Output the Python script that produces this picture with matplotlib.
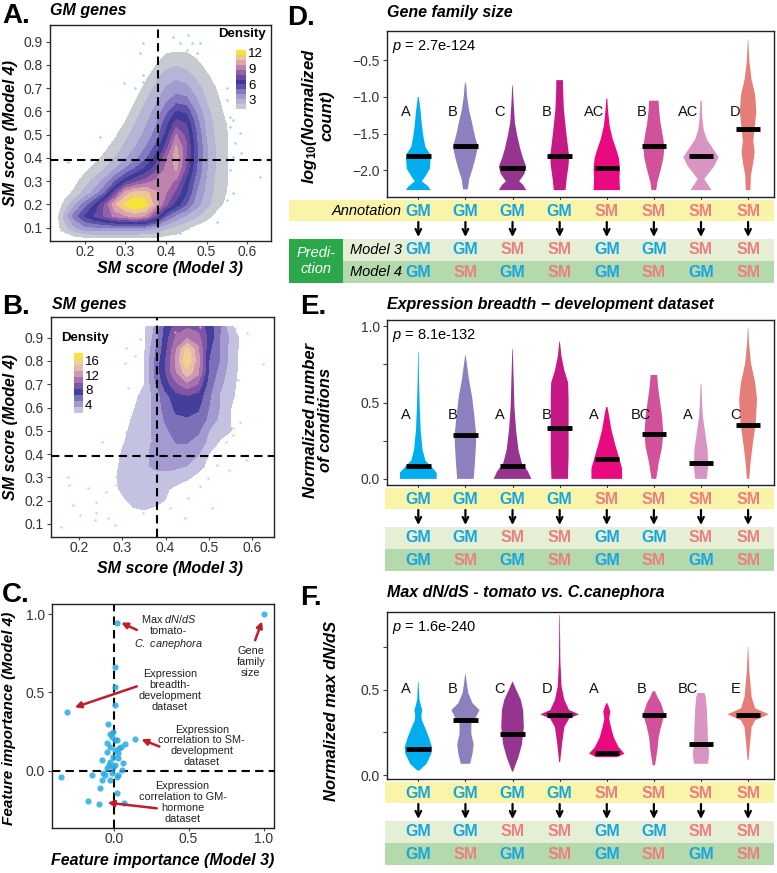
import numpy as np
import matplotlib
matplotlib.use('Agg')
import matplotlib.pyplot as plt

plt.rcParams['font.family'] = ['Liberation Sans', 'DejaVu Sans']
plt.rcParams['mathtext.fontset'] = 'custom'
plt.rcParams['mathtext.it'] = 'Liberation Sans:italic'
plt.rcParams['mathtext.rm'] = 'Liberation Sans'
plt.rcParams['mathtext.bf'] = 'Liberation Sans:bold'

# ---------------- data ----------------
# A: density of GM genes (rows = y, cols = x)
dens_x_a = [0.125, 0.15, 0.175, 0.2, 0.225, 0.25, 0.275, 0.3, 0.325, 0.35,
            0.375, 0.4, 0.425, 0.45, 0.475, 0.5, 0.525, 0.55, 0.575]
dens_y_a = [0.05, 0.10, 0.15, 0.20, 0.25, 0.30, 0.35, 0.40, 0.45,
            0.50, 0.55, 0.60, 0.65, 0.70, 0.75, 0.80, 0.85, 0.90]
dens_gm = [
    [0.2, 0.4, 0.6, 0.7, 0.8, 0.8, 0.8, 0.8, 0.8, 0.8, 0.8, 0.7, 0.7, 0.6, 0.5, 0.3, 0.2, 0.1, 0.1],
    [0.6, 1.8, 3.0, 3.8, 3.9, 3.9, 3.9, 3.9, 3.9, 3.7, 3.2, 2.4, 1.9, 1.4, 0.9, 0.6, 0.4, 0.2, 0.1],
    [0.5, 2.5, 4.5, 6.0, 7.0, 8.0, 9.0, 9.6, 10.0, 9.5, 7.5, 5.0, 3.8, 3.0, 2.3, 1.6, 0.9, 0.5, 0.2],
    [0.3, 1.5, 3.0, 4.5, 6.0, 8.0, 10.5, 11.8, 12.5, 12.0, 10.0, 8.0, 6.5, 5.0, 3.5, 2.5, 1.6, 1.0, 0.4],
    [0.1, 0.8, 1.5, 2.5, 3.5, 5.0, 7.5, 10.2, 11.0, 11.0, 9.8, 8.8, 7.5, 6.0, 4.0, 2.8, 1.8, 1.2, 0.5],
    [0.1, 0.3, 0.9, 1.8, 2.5, 3.5, 5.0, 6.5, 7.5, 8.2, 9.0, 9.3, 8.5, 6.5, 4.5, 3.0, 1.9, 1.3, 0.6],
    [0.0, 0.1, 0.4, 1.0, 1.6, 2.3, 3.2, 4.2, 5.2, 6.3, 7.5, 9.0, 9.8, 7.5, 5.0, 3.2, 2.0, 1.3, 0.6],
    [0.0, 0.0, 0.2, 0.5, 0.9, 1.5, 2.2, 3.0, 3.8, 4.8, 6.2, 8.5, 10.2, 8.0, 5.2, 3.2, 2.0, 1.3, 0.6],
    [0.0, 0.0, 0.1, 0.3, 0.5, 1.0, 1.6, 2.4, 3.1, 4.0, 5.2, 7.2, 9.8, 8.0, 5.2, 3.2, 2.0, 1.3, 0.6],
    [0.0, 0.0, 0.0, 0.1, 0.3, 0.6, 1.1, 1.9, 2.6, 3.4, 4.4, 6.2, 8.8, 7.5, 5.0, 3.0, 1.9, 1.3, 0.6],
    [0.0, 0.0, 0.0, 0.0, 0.1, 0.3, 0.7, 1.3, 2.2, 3.0, 3.9, 5.5, 7.3, 6.8, 4.5, 2.8, 1.8, 1.2, 0.5],
    [0.0, 0.0, 0.0, 0.0, 0.0, 0.1, 0.4, 0.8, 1.7, 2.6, 3.4, 4.6, 6.0, 5.7, 3.9, 2.5, 1.6, 1.0, 0.4],
    [0.0, 0.0, 0.0, 0.0, 0.0, 0.0, 0.2, 0.5, 1.2, 2.1, 2.9, 3.8, 4.5, 4.3, 3.2, 2.1, 1.4, 0.9, 0.3],
    [0.0, 0.0, 0.0, 0.0, 0.0, 0.0, 0.1, 0.3, 0.8, 1.5, 2.4, 3.2, 3.6, 3.4, 2.6, 1.8, 1.2, 0.7, 0.2],
    [0.0, 0.0, 0.0, 0.0, 0.0, 0.0, 0.0, 0.1, 0.5, 1.0, 1.9, 2.6, 2.9, 2.6, 2.0, 1.4, 0.9, 0.5, 0.1],
    [0.0, 0.0, 0.0, 0.0, 0.0, 0.0, 0.0, 0.0, 0.2, 0.6, 1.2, 1.9, 2.1, 1.9, 1.5, 1.0, 0.6, 0.3, 0.1],
    [0.0, 0.0, 0.0, 0.0, 0.0, 0.0, 0.0, 0.0, 0.1, 0.3, 0.8, 1.2, 1.35, 1.3, 1.0, 0.6, 0.3, 0.1, 0.0],
    [0.0, 0.0, 0.0, 0.0, 0.0, 0.0, 0.0, 0.0, 0.0, 0.1, 0.3, 0.4, 0.5, 0.4, 0.3, 0.2, 0.1, 0.0, 0.0],
]
gm_pts_x = [0.336, 0.344, 0.296, 0.323, 0.344, 0.237, 0.282, 0.159, 0.216, 0.435, 0.455, 0.463,
            0.484, 0.476, 0.484, 0.496, 0.55, 0.558, 0.566, 0.582, 0.57, 0.586, 0.529, 0.517,
            0.55, 0.566, 0.632, 0.558, 0.533, 0.5, 0.525, 0.455, 0.435, 0.328, 0.138, 0.142,
            0.196, 0.344, 0.451, 0.447, 0.55, 0.48, 0.484, 0.566, 0.558, 0.418]
gm_pts_y = [0.853, 0.757, 0.724, 0.70, 0.728, 0.49, 0.484, 0.381, 0.391, 0.893, 0.929, 0.893,
            0.893, 0.85, 0.778, 0.763, 0.649, 0.577, 0.563, 0.506, 0.463, 0.42, 0.42, 0.305,
            0.219, 0.248, 0.319, 0.348, 0.334, 0.176, 0.126, 0.097, 0.076, 0.076, 0.126, 0.09,
            0.147, 0.893, 0.864, 0.706, 0.699, 0.491, 0.262, 0.405, 0.534, 0.922]

# B: density of SM genes
dens_x_b = [0.15, 0.175, 0.2, 0.225, 0.25, 0.275, 0.3, 0.325, 0.35, 0.375,
            0.4, 0.425, 0.45, 0.475, 0.5, 0.525, 0.55, 0.575, 0.6]
dens_y_b = [0.10, 0.15, 0.20, 0.25, 0.30, 0.35, 0.40, 0.45, 0.50,
            0.55, 0.60, 0.65, 0.70, 0.75, 0.80, 0.85, 0.90, 0.95]
dens_sm = [
    [0, 0, 0, 0, 0, 0.1, 0.3, 0.6, 0.7, 0.6, 0.4, 0.2, 0.1, 0, 0, 0, 0, 0, 0],
    [0, 0, 0, 0, 0, 0.3, 0.8, 1.3, 1.5, 1.3, 0.9, 0.5, 0.3, 0.1, 0, 0, 0, 0, 0],
    [0, 0, 0, 0, 0.1, 0.5, 1.3, 2.1, 2.2, 2.0, 1.6, 0.8, 0.5, 0.3, 0.1, 0, 0, 0, 0],
    [0, 0, 0, 0, 0.2, 0.9, 2.0, 2.5, 2.6, 2.4, 1.9, 1.2, 0.8, 0.5, 0.2, 0.1, 0, 0, 0],
    [0, 0, 0, 0, 0.3, 1.1, 2.2, 2.7, 2.9, 2.9, 2.8, 2.5, 1.9, 1.2, 0.7, 0.3, 0.1, 0, 0],
    [0, 0, 0, 0, 0.3, 1.0, 2.0, 2.6, 3.1, 3.5, 3.7, 3.6, 3.3, 2.3, 1.2, 0.6, 0.3, 0.1, 0],
    [0, 0, 0, 0, 0.2, 0.8, 1.8, 2.5, 3.0, 3.6, 4.2, 4.4, 4.2, 3.4, 1.6, 0.9, 0.5, 0.2, 0],
    [0, 0, 0, 0, 0, 0.5, 1.5, 2.2, 2.9, 3.5, 4.3, 5.0, 5.0, 4.2, 2.9, 1.5, 0.9, 0.4, 0.1],
    [0, 0, 0, 0, 0, 0.3, 1.3, 2.0, 2.7, 3.5, 4.6, 5.7, 5.8, 5.3, 3.3, 2.2, 1.7, 0.9, 0.1],
    [0, 0, 0, 0, 0, 0.2, 1.0, 1.8, 2.6, 3.6, 5.2, 6.3, 6.4, 6.0, 4.6, 2.9, 1.7, 0.8, 0.2],
    [0, 0, 0, 0, 0, 0, 0.8, 1.5, 2.3, 3.8, 5.6, 7.0, 7.3, 6.9, 4.95, 3.3, 1.7, 0.8, 0.2],
    [0, 0, 0, 0, 0, 0, 0.6, 1.4, 1.9, 3.9, 6.0, 7.7, 8.1, 7.6, 5.3, 3.2, 2.0, 1.0, 0.3],
    [0, 0, 0, 0, 0, 0, 0.5, 1.2, 1.6, 4.6, 7.5, 9.6, 11.0, 9.8, 5.8, 3.8, 2.2, 1.1, 0.3],
    [0, 0, 0, 0, 0, 0, 0.4, 1.0, 1.5, 5.2, 8.25, 11.5, 14.2, 12.0, 6.4, 4.3, 2.5, 1.1, 0.3],
    [0, 0, 0, 0, 0, 0, 0.4, 1.0, 1.5, 5.0, 8.25, 12.0, 16.7, 12.2, 6.6, 4.95, 2.7, 1.2, 0.3],
    [0, 0, 0, 0, 0, 0, 0.3, 0.8, 1.3, 4.6, 7.7, 11.5, 15.5, 12.0, 7.0, 4.9, 2.7, 1.2, 0.3],
    [0, 0, 0, 0, 0, 0, 0.2, 0.7, 1.4, 3.8, 7.5, 10.2, 11.2, 10.5, 7.8, 5.0, 3.0, 1.3, 0.3],
    [0, 0, 0, 0, 0, 0, 0.2, 0.6, 1.2, 3.4, 7.0, 9.0, 9.6, 9.2, 7.5, 5.2, 1.9, 0.8, 0.2],
]
sm_pts_x = [0.158, 0.175, 0.177, 0.185, 0.202, 0.221, 0.24, 0.236, 0.238, 0.263, 0.267, 0.252,
            0.286, 0.282, 0.309, 0.313, 0.306, 0.329, 0.34, 0.309, 0.348, 0.356, 0.387, 0.41,
            0.444, 0.451, 0.479, 0.508, 0.498, 0.519, 0.547, 0.525, 0.54, 0.556, 0.56, 0.588,
            0.568, 0.625, 0.587, 0.572, 0.556, 0.51, 0.487, 0.421, 0.479, 0.367, 0.34]
sm_pts_y = [0.086, 0.303, 0.268, 0.182, 0.139, 0.253, 0.196, 0.117, 0.146, 0.239, 0.125, 0.454,
            0.268, 0.096, 0.497, 0.683, 0.793, 0.821, 0.894, 0.854, 0.146, 0.21, 0.268, 0.167,
            0.125, 0.21, 0.261, 0.167, 0.296, 0.353, 0.332, 0.396, 0.454, 0.511, 0.94, 0.919,
            0.718, 0.786, 0.375, 0.539, 0.482, 0.482, 0.382, 0.926, 0.947, 0.461, 0.561]

# C: feature importance
fi_model3 = [1.0, 0.02, 0.009, 0.009, 0.009, -0.31, 0.143, -0.352, -0.036, -0.024, -0.002,
             0.076, 0.02, -0.047, -0.024, 0.009, 0.031, -0.047, -0.002, -0.024, 0.009, -0.047,
             -0.013, -0.069, 0.031, -0.08, -0.076, -0.147, -0.091, -0.024, 0.02, -0.169,
             -0.096, 0.069, 0.053, 0.065, 0.031, 0.047, 0.009, -0.013, 0.038, -0.002, -0.029,
             0.02, -0.056]
fi_model4 = [1.0, 0.947, 0.661, 0.533, 0.42, 0.377, 0.205, -0.038, 0.298, 0.235, 0.25,
             0.171, 0.196, 0.175, 0.154, 0.132, 0.111, 0.122, 0.09, 0.058, 0.036, 0.015,
             -0.013, -0.017, -0.028, 0.068, -0.06, -0.028, -0.113, -0.06, -0.145, -0.194,
             -0.213, -0.209, 0.004, 0.051, 0.079, 0.154, 0.196, 0.217, 0.143, 0.026, 0.036,
             -0.038, -0.028]

# D-F: groups, labels and violin outlines (y, full width)
groups = ['GM/GM/GM', 'GM/GM/SM', 'GM/SM/GM', 'GM/SM/SM', 'SM/GM/GM', 'SM/GM/SM', 'SM/SM/GM', 'SM/SM/SM']
annot_labels = ['GM', 'GM', 'GM', 'GM', 'SM', 'SM', 'SM', 'SM']
model3_labels = ['GM', 'GM', 'SM', 'SM', 'GM', 'GM', 'SM', 'SM']
model4_labels = ['GM', 'SM', 'GM', 'SM', 'GM', 'SM', 'GM', 'SM']

fam_profiles = [
    [(-2.27, 0.53), (-2.22, 0.42), (-2.15, 0.15), (-2.08, 0.3), (-1.98, 0.49), (-1.85, 0.52),
     (-1.78, 0.5), (-1.68, 0.3), (-1.55, 0.22), (-1.38, 0.15), (-1.2, 0.1), (-1.05, 0.04), (-1.0, 0.02)],
    [(-2.26, 0.1), (-2.12, 0.16), (-1.98, 0.3), (-1.84, 0.42), (-1.68, 0.53), (-1.53, 0.4),
     (-1.35, 0.28), (-1.17, 0.15), (-0.99, 0.07), (-0.83, 0.03), (-0.8, 0.005)],
    [(-2.27, 0.58), (-2.2, 0.45), (-2.15, 0.28), (-2.05, 0.5), (-1.95, 0.58), (-1.84, 0.45),
     (-1.71, 0.33), (-1.53, 0.2), (-1.35, 0.1), (-1.1, 0.05), (-0.84, 0.01)],
    [(-2.27, 0.25), (-2.11, 0.3), (-1.93, 0.38), (-1.8, 0.4), (-1.62, 0.33), (-1.39, 0.25),
     (-1.17, 0.18), (-0.94, 0.15), (-0.77, 0.14)],
    [(-2.27, 0.56), (-2.1, 0.54), (-1.98, 0.56), (-1.84, 0.52), (-1.71, 0.4), (-1.57, 0.25),
     (-1.39, 0.12), (-1.2, 0.06), (-1.02, 0.02)],
    [(-2.27, 0.1), (-2.16, 0.15), (-1.98, 0.3), (-1.84, 0.4), (-1.68, 0.45), (-1.53, 0.38),
     (-1.35, 0.28), (-1.17, 0.22), (-1.05, 0.2)],
    [(-2.27, 0.45), (-2.2, 0.3), (-2.12, 0.14), (-2.05, 0.3), (-1.95, 0.55), (-1.82, 0.75),
     (-1.7, 0.5), (-1.58, 0.25), (-1.45, 0.12), (-1.3, 0.06), (-1.15, 0.04), (-1.05, 0.03)],
    [(-2.27, 0.1), (-2.07, 0.12), (-1.93, 0.2), (-1.75, 0.28), (-1.6, 0.22), (-1.45, 0.27),
     (-1.2, 0.35), (-0.97, 0.3), (-0.75, 0.14), (-0.5, 0.05), (-0.22, 0.01)],
]
fam_medians = [-1.80, -1.67, -1.97, -1.80, -1.97, -1.67, -1.80, -1.43]
fam_letters = ['A', 'B', 'C', 'B', 'AC', 'B', 'AC', 'D']

breadth_profiles = [
    [(0.0, 0.78), (0.04, 0.78), (0.08, 0.55), (0.12, 0.3), (0.19, 0.18), (0.32, 0.1),
     (0.47, 0.06), (0.63, 0.03), (0.83, 0.01)],
    [(0.0, 0.35), (0.1, 0.4), (0.23, 0.45), (0.3, 0.45), (0.41, 0.38), (0.54, 0.28),
     (0.65, 0.15), (0.73, 0.08), (0.81, 0.01)],
    [(0.0, 0.8), (0.05, 0.65), (0.1, 0.4), (0.19, 0.25), (0.32, 0.15), (0.47, 0.08),
     (0.69, 0.04), (0.85, 0.01)],
    [(0.0, 0.35), (0.15, 0.38), (0.32, 0.38), (0.52, 0.38), (0.63, 0.36), (0.71, 0.2),
     (0.8, 0.08), (0.9, 0.01)],
    [(0.0, 0.65), (0.07, 0.65), (0.15, 0.5), (0.23, 0.35), (0.32, 0.2), (0.41, 0.1), (0.47, 0.03)],
    [(0.0, 0.1), (0.1, 0.2), (0.21, 0.35), (0.3, 0.4), (0.41, 0.35), (0.52, 0.25),
     (0.6, 0.18), (0.68, 0.14)],
    [(0.0, 0.25), (0.08, 0.3), (0.19, 0.28), (0.3, 0.18), (0.41, 0.08), (0.52, 0.04), (0.62, 0.02)],
    [(0.0, 0.05), (0.1, 0.1), (0.23, 0.2), (0.36, 0.32), (0.52, 0.38), (0.63, 0.3),
     (0.76, 0.12), (0.89, 0.04), (0.99, 0.01)],
]
breadth_medians = [0.087, 0.29, 0.087, 0.335, 0.13, 0.295, 0.107, 0.353]
breadth_letters = ['A', 'B', 'A', 'B', 'A', 'BC', 'A', 'C']

dnds_profiles = [
    [(0.027, 0.05), (0.066, 0.35), (0.125, 0.55), (0.164, 0.58), (0.22, 0.45), (0.28, 0.28),
     (0.32, 0.15), (0.35, 0.13), (0.38, 0.17), (0.40, 0.12), (0.44, 0.05), (0.545, 0.01)],
    [(0.066, 0.2), (0.125, 0.3), (0.18, 0.35), (0.24, 0.25), (0.30, 0.25), (0.34, 0.45),
     (0.38, 0.6), (0.42, 0.3), (0.48, 0.12), (0.535, 0.06), (0.59, 0.01)],
    [(0.02, 0.02), (0.105, 0.25), (0.18, 0.4), (0.28, 0.48), (0.38, 0.45), (0.44, 0.35),
     (0.50, 0.15), (0.545, 0.01)],
    [(0.076, 0.02), (0.18, 0.1), (0.28, 0.2), (0.33, 0.4), (0.355, 0.82), (0.38, 0.4),
     (0.44, 0.2), (0.52, 0.08), (0.67, 0.03), (0.935, 0.01)],
    [(0.105, 0.45), (0.125, 0.75), (0.164, 0.5), (0.22, 0.3), (0.28, 0.18), (0.33, 0.1),
     (0.37, 0.15), (0.40, 0.08), (0.42, 0.02)],
    [(0.057, 0.05), (0.145, 0.15), (0.22, 0.2), (0.28, 0.3), (0.355, 0.45), (0.42, 0.3),
     (0.457, 0.15), (0.49, 0.05)],
    [(0.066, 0.3), (0.125, 0.35), (0.18, 0.3), (0.28, 0.28), (0.38, 0.25), (0.457, 0.2), (0.48, 0.15)],
    [(0.086, 0.02), (0.18, 0.08), (0.28, 0.15), (0.32, 0.3), (0.355, 0.88), (0.39, 0.3),
     (0.457, 0.15), (0.535, 0.1), (0.61, 0.05), (0.75, 0.01)],
]
dnds_medians = [0.15, 0.32, 0.24, 0.353, 0.13, 0.353, 0.18, 0.353]
dnds_letters = ['A', 'B', 'C', 'D', 'A', 'B', 'BC', 'E']

# ---------------- style ----------------
violin_colors = ['#00aeef', '#8e7fbf', '#953590', '#c51a86', '#ea0a80', '#d1519b', '#d895c2', '#e57e78']
label_colors = {'GM': '#17a5dd', 'SM': '#ec8080'}
colors_a = ['#c8cad2', '#b7b5d6', '#a29ccf', '#857ac0', '#5d52a9', '#3e3b98',
            '#6a4aa0', '#9560a7', '#bd82ae', '#dca5ad', '#efc891', '#f7e23a']
levels_a = np.linspace(1.25, 12.5, 13)
colors_b = ['#c4c2e1', '#a39bcf', '#7d70b8', '#433f9b', '#7f56a5',
            '#a872ad', '#cf98b5', '#e6bca8', '#efcf95', '#f5e43a']
levels_b = list(np.linspace(1.65, 16.5, 10)) + [17.0]
dash = (0, (4, 2.5))

fig = plt.figure(figsize=(7.77, 8.73), dpi=100)
W, H = 777.0, 873.0


def box(l, t, r, b):
    return fig.add_axes([l / W, 1 - b / H, (r - l) / W, (b - t) / H])


def ftext(x, y, s, **kw):
    return fig.text(x / W, 1 - y / H, s, **kw)


def style(ax):
    for sp in ax.spines.values():
        sp.set_color('#222222')
        sp.set_linewidth(1.0)
    ax.tick_params(length=3, width=0.8, color='#444444', labelsize=10, labelcolor='#333333', pad=2)
    ax.tick_params(axis='x', length=2.5, pad=0.5)


# ---------------- A ----------------
axA = box(50, 25, 271, 241)
axA.scatter(gm_pts_x, gm_pts_y, s=3, color='#8fd3f0', linewidths=0, zorder=1)
csA = axA.contourf(dens_x_a, dens_y_a, np.array(dens_gm), levels=levels_a, colors=colors_a, zorder=2)
axA.axvline(0.38, color='black', lw=1.5, ls=dash, zorder=4)
axA.axhline(0.39, color='black', lw=1.5, ls=dash, zorder=4)
axA.set_xlim(0.114, 0.659)
axA.set_ylim(0.043, 0.972)
axA.set_xticks([0.2, 0.3, 0.4, 0.5, 0.6])
axA.set_yticks([0.1, 0.2, 0.3, 0.4, 0.5, 0.6, 0.7, 0.8, 0.9])
style(axA)
caxA = box(236, 50, 246, 109)
cbA = fig.colorbar(csA, cax=caxA, ticks=[3, 6, 9, 12])
cbA.outline.set_visible(False)
caxA.tick_params(length=0, labelsize=9.5, pad=1.5)
ftext(242, 34, 'Density', ha='center', va='center', fontsize=9.5, fontweight='bold')
ftext(2, 16, 'A.', ha='left', va='center', fontsize=20, fontweight='bold')
ftext(50, 11, 'GM genes', ha='left', va='center', fontsize=11.5, fontweight='bold', fontstyle='italic')
ftext(170, 268, 'SM score (Model 3)', ha='center', va='center', fontsize=11.5, fontweight='bold', fontstyle='italic')
ftext(11, 133, 'SM score (Model 4)', ha='center', va='center', rotation=90, fontsize=11.5,
      fontweight='bold', fontstyle='italic')

# ---------------- B ----------------
axB = box(51, 317, 274, 537)
csB = axB.contourf(dens_x_b, dens_y_b, np.array(dens_sm), levels=levels_b, colors=colors_b, zorder=1)
axB.scatter(sm_pts_x, sm_pts_y, s=3, color='#f5b3bd', linewidths=0, alpha=0.8, zorder=2)
axB.axvline(0.38, color='black', lw=1.5, ls=dash, zorder=4)
axB.axhline(0.394, color='black', lw=1.5, ls=dash, zorder=4)
axB.set_xlim(0.135, 0.651)
axB.set_ylim(0.044, 0.989)
axB.set_xticks([0.2, 0.3, 0.4, 0.5, 0.6])
axB.set_yticks([0.1, 0.2, 0.3, 0.4, 0.5, 0.6, 0.7, 0.8, 0.9])
style(axB)
caxB = box(74, 353, 83, 413)
cbB = fig.colorbar(csB, cax=caxB, ticks=[4, 8, 12, 16])
cbB.outline.set_visible(False)
caxB.tick_params(length=0, labelsize=9.5, pad=1.5)
ftext(85, 338, 'Density', ha='center', va='center', fontsize=9.5, fontweight='bold')
ftext(2, 307, 'B.', ha='left', va='center', fontsize=20, fontweight='bold')
ftext(52, 304, 'SM genes', ha='left', va='center', fontsize=11.5, fontweight='bold', fontstyle='italic')
ftext(170, 569, 'SM score (Model 3)', ha='center', va='center', fontsize=11.5, fontweight='bold', fontstyle='italic')
ftext(11, 427, 'SM score (Model 4)', ha='center', va='center', rotation=90, fontsize=11.5,
      fontweight='bold', fontstyle='italic')

# ---------------- C ----------------
axC = box(52, 604, 274, 828)
axC.scatter(fi_model3, fi_model4, s=20, color='#29abe2', alpha=0.85, linewidths=0, zorder=3)
axC.axvline(0, color='black', lw=1.5, ls=dash, zorder=2)
axC.axhline(0, color='black', lw=1.5, ls=dash, zorder=2)
axC.set_xlim(-0.412, 1.07)
axC.set_ylim(-0.367, 1.066)
axC.set_xticks([0.0, 0.5, 1.0])
axC.set_yticks([0.0, 0.5, 1.0])
style(axC)
red = '#be1e2d'
notes = [
    ('Max $dN/dS$\ntomato-\n$C.\\ canephora$', (0.365, 0.889), (0.154, 0.9), (0.05, 0.947)),
    ('Gene\nfamily\nsize', (0.915, 0.695), (0.944, 0.834), (0.99, 0.955)),
    ('Expression\nbreadth-\ndevelopment\ndataset', (0.376, 0.513), (0.154, 0.539), (-0.26, 0.405)),
    ('Expression\ncorrelation to SM-\ndevelopment\ndataset', (0.588, 0.159), (0.305, 0.154), (0.185, 0.2)),
    ('Expression\ncorrelation to GM-\nhormone\ndataset', (0.459, -0.204), (0.287, -0.241), (-0.04, -0.205)),
]
for s, pos, tail, tip in notes:
    axC.text(pos[0], pos[1], s, ha='center', va='center', fontsize=7.8, linespacing=1.1, color='#231f20')
    axC.annotate('', xy=tip, xytext=tail,
                 arrowprops=dict(arrowstyle='-|>', color=red, lw=1.8, mutation_scale=9,
                                 shrinkA=0, shrinkB=0))
ftext(2, 595, 'C.', ha='left', va='center', fontsize=20, fontweight='bold')
ftext(163, 861, 'Feature importance (Model 3)', ha='center', va='center', fontsize=11.5,
      fontweight='bold', fontstyle='italic')
ftext(9, 718, 'Feature importance (Model 4)', ha='center', va='center', rotation=90, fontsize=11,
      fontweight='bold', fontstyle='italic')

# ---------------- D-F ----------------
positions = np.arange(1, len(groups) + 1)
vx0, vx1 = 0.335, 8.55


def violin_panel(t, b, profiles, medians, letters, letter_y, ylim, yticks, yticklabels, pval):
    ax = box(387, t, 774, b)
    stats = []
    for prof in profiles:
        arr = np.array(prof)
        stats.append(dict(coords=arr[:, 0], vals=arr[:, 1], mean=0.0, median=0.0,
                          min=arr[0, 0], max=arr[-1, 0]))
    widths = [np.array(p)[:, 1].max() for p in profiles]
    parts = ax.violin(stats, positions=positions, widths=widths, showextrema=False)
    for body, c in zip(parts['bodies'], violin_colors):
        body.set_facecolor(c)
        body.set_edgecolor('none')
        body.set_alpha(1)
    ax.hlines(medians, positions - 0.26, positions + 0.26, color='black', lw=3.5, zorder=3)
    for p, s in zip(positions, letters):
        ax.text(p - 0.27, letter_y, s, ha='center', va='center', fontsize=10.5, color='#111111')
    ax.text(0.013, 0.905, '$p$ = ' + pval, transform=ax.transAxes, ha='left', va='center', fontsize=10.5)
    ax.set_xlim(vx0, vx1)
    ax.set_ylim(*ylim)
    ax.set_xticks(positions)
    ax.set_xticklabels([])
    ax.set_yticks(yticks)
    ax.set_yticklabels(yticklabels)
    style(ax)
    return ax


def draw_bands(b, left, named):
    axb = box(left, b + 3, 774, b + 86)
    u = (vx1 - vx0) / (774 - 387)
    axb.set_xlim(vx0 - (387 - left) * u, vx1)
    axb.set_ylim(b + 86, b + 3)
    axb.axis('off')
    g0 = (343 - left) / (774 - left) if named else 0
    axb.axhspan(b + 3, b + 24, color='#faf4a8', lw=0)
    axb.axhspan(b + 42, b + 63.5, xmin=g0, color='#e4efd6', lw=0)
    axb.axhspan(b + 63.5, b + 86, xmin=g0, color='#b3d9ad', lw=0)
    for p, a, m3, m4 in zip(positions, annot_labels, model3_labels, model4_labels):
        axb.text(p, b + 14, a, ha='center', va='center', fontsize=11.5, fontweight='bold', color=label_colors[a])
        axb.text(p, b + 53, m3, ha='center', va='center', fontsize=11.5, fontweight='bold', color=label_colors[m3])
        axb.text(p, b + 75.5, m4, ha='center', va='center', fontsize=11.5, fontweight='bold', color=label_colors[m4])
        axb.annotate('', xy=(p, b + 40), xytext=(p, b + 25),
                     arrowprops=dict(arrowstyle='->', color='black', lw=1.6, mutation_scale=10,
                                     shrinkA=0, shrinkB=0))
    if named:
        axb.axhspan(b + 42, b + 86, xmin=0, xmax=g0, color='#2ba84a', lw=0)
        ftext(402, b + 14, 'Annotation', ha='right', va='center', fontsize=10.5, fontstyle='italic')
        ftext(402, b + 53, 'Model 3', ha='right', va='center', fontsize=10.5, fontstyle='italic')
        ftext(402, b + 75.5, 'Model 4', ha='right', va='center', fontsize=10.5, fontstyle='italic')
        ftext(316, b + 64, 'Predi-\nction', ha='center', va='center', fontsize=10.5,
              fontstyle='italic', color='white', linespacing=1.15)


violin_panel(31, 197, fam_profiles, fam_medians, fam_letters, -1.2, (-2.364, -0.1),
             [-2.0, -1.5, -1.0, -0.5], ['\u22122.0', '\u22121.5', '\u22121.0', '\u22120.5'], '2.7e-124')
draw_bands(197, 289, True)
ftext(287, 18, 'D.', ha='left', va='center', fontsize=20, fontweight='bold')
ftext(387, 13, 'Gene family size', ha='left', va='center', fontsize=11.5, fontweight='bold', fontstyle='italic')
ftext(317, 116, 'log$_{\\mathbf{10}}$(Normalized\ncount)', ha='center', va='center', rotation=90,
      fontsize=12, fontweight='bold', fontstyle='italic', linespacing=1.0)

violin_panel(320, 485, breadth_profiles, breadth_medians, breadth_letters, 0.42, (-0.04, 1.04),
             [0.0, 0.25, 0.5, 0.75, 1.0], ['0.0', '', '0.5', '', '1.0'], '8.1e-132')
draw_bands(485, 385, False)
ftext(300, 307, 'E.', ha='left', va='center', fontsize=20, fontweight='bold')
ftext(387, 305, 'Expression breadth \u2212 development dataset', ha='left', va='center', fontsize=11.5,
      fontweight='bold', fontstyle='italic')
ftext(318, 420, 'Normalized number\nof conditions', ha='center', va='center', rotation=90,
      fontsize=12, fontweight='bold', fontstyle='italic', linespacing=1.0)

violin_panel(612, 779, dnds_profiles, dnds_medians, dnds_letters, 0.505, (-0.023, 0.953),
             [0.0, 0.25, 0.5, 0.75], ['0.0', '', '0.5', ''], '1.6e-240')
draw_bands(779, 385, False)
ftext(300, 598, 'F.', ha='left', va='center', fontsize=20, fontweight='bold')
ftext(387, 593, 'Max dN/dS - tomato vs. C.canephora', ha='left', va='center', fontsize=11.5,
      fontweight='bold', fontstyle='italic')
ftext(331, 711, 'Normalized max dN/dS', ha='center', va='center', rotation=90,
      fontsize=12, fontweight='bold', fontstyle='italic')

fig.savefig('out.png', dpi=100)
